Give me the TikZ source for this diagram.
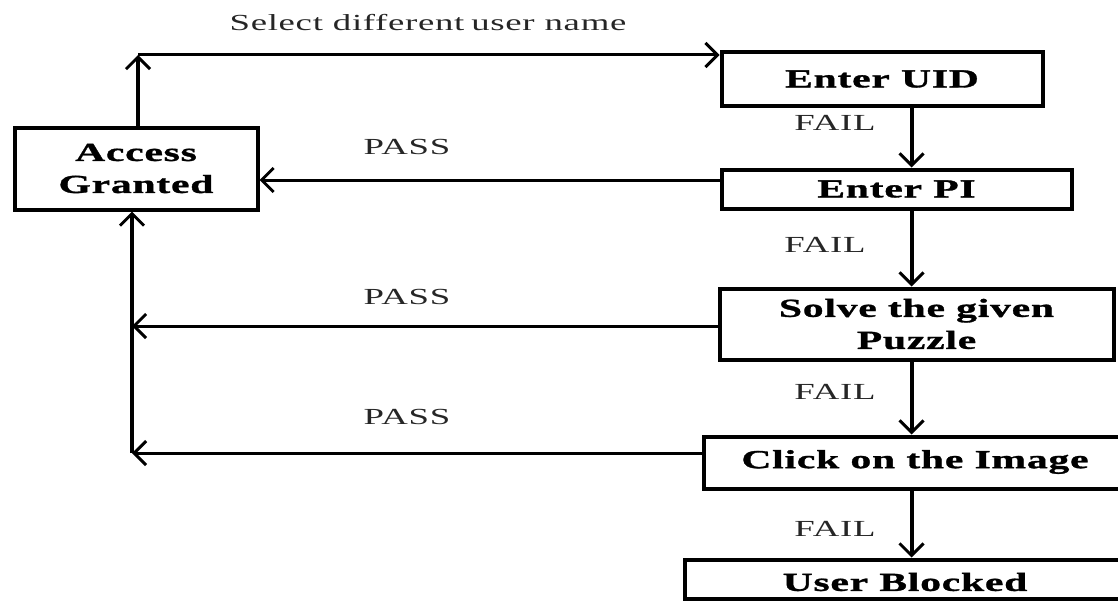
\documentclass[tikz,border=0pt]{standalone}
\usepackage{fontspec}
\setmainfont{Liberation Serif}[FakeStretch=1.6,LetterSpace=3,BoldFeatures={FakeBold=1.2}]
\usetikzlibrary{arrows.meta}
\begin{document}
\begin{tikzpicture}[x=1pt,y=-1pt,
  box/.style={draw, line width=4pt, align=center, inner sep=0pt,
    font=\fontsize{26}{32}\selectfont\bfseries},
  btxt/.style={font=\fontsize{26}{32}\selectfont\bfseries, inner sep=0pt},
  lbl/.style={font=\fontsize{23}{26}\selectfont, inner sep=0pt, text=black!85},
  tip/.style={-{Straight Barb[length=12pt,width=24pt,line width=3pt]}},
  vline/.style={tip, line width=4pt},
  hline/.style={tip, line width=3pt}]
\useasboundingbox (0,0) rectangle (1118,602);
\clip (0,0) rectangle (1118,602);
% boxes
\node[box, minimum width=243pt, minimum height=82pt] (ag) at (136,168.5) {Access\\Granted};
\node[box, minimum width=321pt, minimum height=53pt] (uid) at (882,79) {Enter UID};
\node[box, minimum width=350pt, minimum height=39pt] (pi) at (896.5,189) {Enter PI};
\node[box, minimum width=394pt, minimum height=71pt] (solve) at (916.5,324) {Solve the given\\Puzzle};
\node[box, minimum width=420pt, minimum height=52pt] (click) at (913.5,462.5) {};
\node[btxt] (clicktxt) at (915,462) {Click on the Image};
\node[box, minimum width=440pt, minimum height=39pt] (blocked) at (905,579) {};
\node[btxt] (blockedtxt) at (905,582) {User Blocked};
% labels
\node[lbl] (sel) at (428,23) {Select different\hspace{-3pt} user name};
\node[lbl] (f1) at (835,123) {FAIL};
\node[lbl] (f2) at (825,245) {FAIL};
\node[lbl] (f3) at (835,392) {FAIL};
\node[lbl] (f4) at (835,529) {FAIL};
\node[lbl] (p1) at (407,147) {PASS};
\node[lbl] (p2) at (407,297) {PASS};
\node[lbl] (p3) at (407,417) {PASS};
% coordinates
\coordinate (tl) at (138,55);
\coordinate (fx) at (911.5,0);
\coordinate (lx) at (132,0);
% connectors
\draw[vline] ([xshift=2pt]ag.north) -- (tl);
\draw[hline] (tl) -- (tl -| uid.west);
\draw[vline] (uid.south -| fx) -- (pi.north -| fx);
\draw[hline] ([yshift=9pt]pi.west) -- ([yshift=9pt]pi.west -| ag.east);
\draw[vline] (pi.south -| fx) -- (solve.north -| fx);
\draw[hline] ([yshift=-2pt]solve.west) -- ([yshift=-2pt]solve.west -| lx);
\draw[vline] (solve.south -| fx) -- (click.north -| fx);
\draw[hline] ([yshift=9.5pt]click.west) -- ([yshift=9.5pt]click.west -| lx);
\draw[vline] ([yshift=9.5pt]click.west -| lx) -- (ag.south -| lx);
\draw[vline] (click.south -| fx) -- (blocked.north -| fx);
\end{tikzpicture}
\end{document}
